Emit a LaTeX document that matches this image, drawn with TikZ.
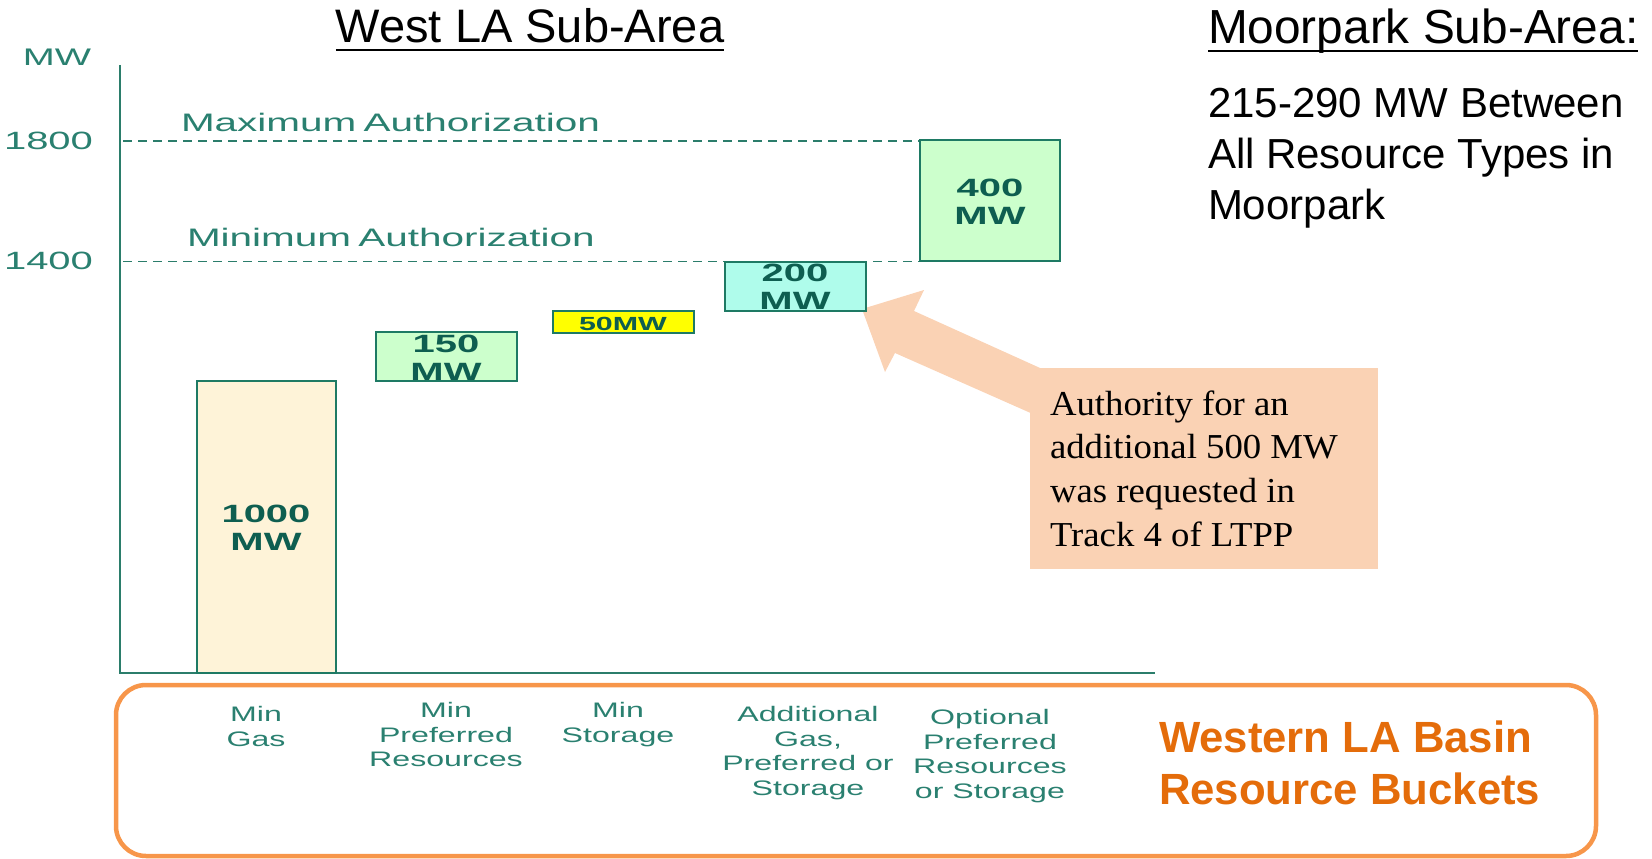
\documentclass[tikz,border=0pt]{standalone}
\usepackage{fontspec}
\setmainfont{Liberation Sans}
\newfontfamily\chartf[FakeStretch=1.6]{Liberation Sans}
\newfontfamily\authf[FakeStretch=1.6,WordSpace=0.65]{Liberation Sans}
\newfontfamily\labf[FakeStretch=1.53]{Liberation Sans}
\newfontfamily\serf[FakeStretch=1.05]{Liberation Serif}
\definecolor{axisteal}{HTML}{2B7D6B}
\definecolor{tealtxt}{HTML}{2A8070}
\definecolor{boxline}{HTML}{1E7A64}
\definecolor{boxtxt}{HTML}{0E5E50}
\definecolor{cream}{HTML}{FEF3D8}
\definecolor{lgreen}{HTML}{CCFFCC}
\definecolor{lcyan}{HTML}{AFFCEB}
\definecolor{byellow}{HTML}{FFFF00}
\definecolor{peach}{HTML}{FAD2B4}
\definecolor{oborder}{HTML}{F7964A}
\definecolor{otext}{HTML}{E46C0A}
\begin{document}
\begin{tikzpicture}[x=1pt,y=-1pt,
  txt/.style={inner sep=0pt, outer sep=0pt},
  chartlbl/.style={txt, text=tealtxt, font=\chartf\fontsize{25}{30}\selectfont},
  authlbl/.style={txt, text=tealtxt, font=\authf\fontsize{25.3}{30}\selectfont},
  boxlbl/.style={txt, text=boxtxt, font=\chartf\bfseries\fontsize{25}{28}\selectfont},
  catlbl/.style={txt, anchor=north, align=center, text=tealtxt, font=\labf\fontsize{21}{24.5}\selectfont},
  bar/.style={draw=boxline, line width=2pt, inner sep=0pt, outer sep=0pt, anchor=north west},
  authline/.style={draw=axisteal, line width=1.5pt, dash pattern=on 9pt off 6pt},
]
\useasboundingbox (0,0) rectangle (1652,859);

% titles
\node[txt, anchor=base, font=\fontsize{47}{56}\selectfont] (title) at (530,43) {West LA Sub-Area};
\draw[line width=2.5pt] ([yshift=-7pt]title.base west) -- ([yshift=-7pt]title.base east);
\node[txt, anchor=base west, font=\fontsize{47.8}{56}\selectfont] (moortitle) at (1208,44) {Moorpark Sub-Area:};
\draw[line width=2.5pt] ([yshift=-7pt]moortitle.base west) -- ([yshift=-7pt]moortitle.base east);
\node[txt, anchor=north west, align=left, font=\fontsize{42}{51}\selectfont] (moortext) at (1208,88) {215-290 MW Between\\All Resource Types in\\Moorpark};

% axis labels
\node[chartlbl, anchor=base west, font=\chartf\fontsize{24}{28}\selectfont] (mw) at (23,66) {MW};
\node[chartlbl, anchor=base east] (y1800) at (93,149.5) {1800};
\node[chartlbl, anchor=base east] (y1400) at (93,269) {1400};
\node[authlbl, anchor=base west] (maxauth) at (181,131) {Maximum Authorization};
\node[authlbl, anchor=base west] (minauth) at (187,246) {Minimum Authorization};

% authorization lines
\coordinate (max0) at (123,141);
\coordinate (max1) at (920,141);
\coordinate (min0) at (123,261.5);
\coordinate (min1) at (920,261.5);
\draw[authline] (max0) -- (max1);
\draw[authline] (min0) -- (min1);

% axes
\coordinate (atop) at (120,65);
\coordinate (aorig) at (120,673);
\coordinate (aend) at (1155,673);
\draw[axisteal, line width=2pt] (atop) -- (aorig) -- (aend);

% arrow (block shape)
\fill[peach] (862,309) -- (924,290) -- (914,311) -- (1060,377) -- (1060,426) -- (895,353) -- (885,372) -- cycle;

% bars
\node[bar, fill=cream, minimum width=139pt, minimum height=292pt] (b1000) at (197,381) {};
\node[bar, fill=lgreen, minimum width=141pt, minimum height=49pt] (b150) at (376,332) {};
\node[bar, fill=byellow, minimum width=141pt, minimum height=22pt] (b50) at (553,311) {};
\node[bar, fill=lcyan, minimum width=141pt, minimum height=49pt] (b200) at (725,262) {};
\node[bar, fill=lgreen, minimum width=140pt, minimum height=121pt] (b400) at (920,140) {};

% bar labels
\node[boxlbl, anchor=base] at (266,522) {1000};
\node[boxlbl, anchor=base] at (266,550) {MW};
\node[boxlbl, anchor=base] at (446,352) {150};
\node[boxlbl, anchor=base] at (446,380) {MW};
\node[boxlbl, anchor=base, font=\chartf\bfseries\fontsize{19}{22}\selectfont] at (623,330) {50MW};
\node[boxlbl, anchor=base] at (795,281) {200};
\node[boxlbl, anchor=base] at (795,309) {MW};
\node[boxlbl, anchor=base] at (990,196) {400};
\node[boxlbl, anchor=base] at (990,224) {MW};

% callout
\node[fill=peach, inner sep=0pt, outer sep=0pt, anchor=north west, minimum width=348pt, minimum height=201pt] (callout) at (1030,368) {};
\node[txt, anchor=north west, align=left, font=\serf\fontsize{35}{43.7}\selectfont] (calltext) at (1050,390.5) {Authority for an\\additional 500 MW\\was requested in\\Track 4 of LTPP};

% bucket frame
\draw[oborder, line width=4.5pt, rounded corners=30pt] (116,685) rectangle (1596,856);
\node[catlbl] (lgas) at (256,706.5) {Min\\Gas};
\node[catlbl] (lpref) at (446,702.5) {Min\\Preferred\\Resources};
\node[catlbl] (lstor) at (618,702.5) {Min\\Storage};
\node[catlbl] (ladd) at (808,706.5) {Additional\\Gas,\\Preferred or\\Storage};
\node[catlbl] (lopt) at (990,709.5) {Optional\\Preferred\\Resources\\or Storage};
\node[txt, anchor=north west, align=left, text=otext, font=\bfseries\fontsize{43.7}{52}\selectfont] (bucket) at (1159,721) {Western LA Basin\\Resource Buckets};
\end{tikzpicture}
\end{document}
